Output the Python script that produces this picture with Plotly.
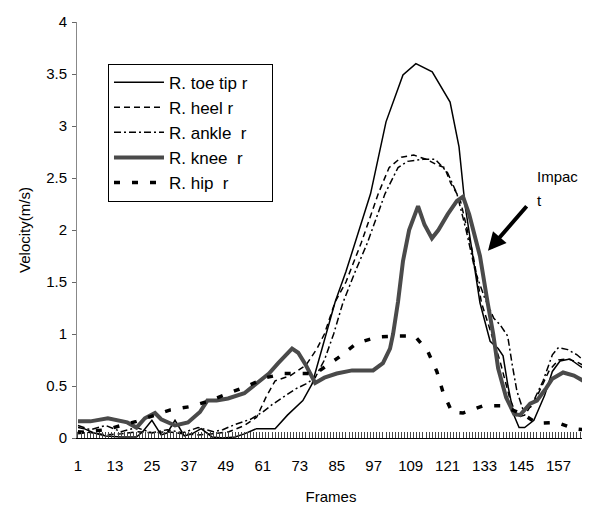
import plotly.graph_objects as go

# ---------------- data ----------------
toe_frames = [1, 3, 6, 10, 15, 20, 22, 25, 28, 30, 32.5, 35.5, 38, 41, 44.5, 48, 52, 55, 59, 65, 69,
              74, 77, 80, 84.5, 88, 91, 96, 101, 106.5, 110.7, 116, 121.8, 124.7, 126.6, 129, 131.5,
              134.8, 137.4, 139, 140.6, 142.5, 144.2, 146, 149, 152.5, 155, 157.5, 160.7, 164, 165.6]
toe_vals = [0.10, 0.09, 0.05, 0.02, 0.01, 0.01, 0.06, 0.17, 0.03, 0.05, 0.17, 0.02, 0.04, 0.09, 0.01,
            0.00, 0.01, 0.04, 0.09, 0.09, 0.22, 0.36, 0.52, 0.84, 1.31, 1.60, 1.88, 2.35, 3.04, 3.49,
            3.60, 3.52, 3.23, 2.80, 2.25, 1.78, 1.30, 0.93, 0.86, 0.79, 0.50, 0.22, 0.10, 0.10, 0.17,
            0.41, 0.64, 0.74, 0.76, 0.69, 0.66]

heel_frames = [1, 5, 10, 15, 20, 25, 30, 35, 40, 45, 50, 55, 59, 62, 65, 70, 75, 78.6, 81, 84.5, 88,
               93, 98.5, 102, 106, 110, 114, 118, 120, 122, 125, 129, 132, 135, 138, 141, 143.5, 146,
               150, 154, 157, 160, 163, 165]
heel_vals = [0.07, 0.05, 0.03, 0.04, 0.06, 0.05, 0.06, 0.04, 0.03, 0.04, 0.06, 0.12, 0.20, 0.39, 0.55,
             0.60, 0.70, 0.86, 1.00, 1.31, 1.50, 1.88, 2.35, 2.60, 2.70, 2.72, 2.68, 2.62, 2.60, 2.45,
             2.30, 1.80, 1.30, 1.02, 0.74, 0.40, 0.20, 0.22, 0.40, 0.65, 0.75, 0.76, 0.73, 0.70]

ankle_frames = [1, 5, 10, 15, 20, 25, 30, 35, 40, 45, 48, 52, 57, 61, 64, 67, 71.5, 75, 78, 81, 84, 87,
                91, 95, 100.7, 104.9, 108, 113, 117, 121, 124, 127, 130, 133, 136, 138, 140.5, 142,
                143.5, 145.5, 148, 152, 155, 157, 160, 163, 165]
ankle_vals = [0.12, 0.08, 0.12, 0.06, 0.10, 0.05, 0.08, 0.05, 0.10, 0.06, 0.08, 0.13, 0.18, 0.25, 0.32,
              0.38, 0.47, 0.52, 0.58, 0.75, 1.00, 1.30, 1.60, 1.88, 2.35, 2.60, 2.66, 2.68, 2.68, 2.55,
              2.35, 2.00, 1.60, 1.35, 1.15, 1.09, 0.98, 0.70, 0.45, 0.27, 0.30, 0.55, 0.80, 0.87, 0.85,
              0.80, 0.75]

knee_frames = [1, 5, 10.7, 14, 17, 20, 22.7, 26, 28, 32.5, 36.7, 40.6, 43, 46, 49.7, 55, 59.4, 63, 66,
               70.5, 72.5, 75, 78, 81, 85, 90, 96.8, 100, 102.3, 103.3, 104.9, 106.5, 108.5, 111.4,
               113.5, 115.9, 118, 121, 124, 126, 128, 131.5, 134, 135.8, 137.4, 140, 142.6, 144.5,
               147.8, 150, 153, 155, 158.5, 162, 165]
knee_vals = [0.16, 0.16, 0.19, 0.17, 0.15, 0.10, 0.19, 0.24, 0.18, 0.12, 0.15, 0.25, 0.36, 0.36, 0.38,
             0.43, 0.53, 0.62, 0.72, 0.86, 0.82, 0.70, 0.53, 0.58, 0.62, 0.65, 0.65, 0.72, 0.86, 1.00,
             1.31, 1.70, 2.00, 2.23, 2.05, 1.92, 2.00, 2.15, 2.28, 2.32, 2.15, 1.75, 1.30, 1.00, 0.67,
             0.39, 0.23, 0.22, 0.33, 0.36, 0.48, 0.57, 0.63, 0.60, 0.55]

hip_frames = [1, 5, 10, 15, 20, 26, 31, 37, 43, 49, 56, 62, 68, 73, 78, 81, 85.4, 91.5, 98, 104, 110.4,
              114.6, 117.5, 119.5, 122.4, 126, 129, 132.5, 138.7, 141.5, 144.5, 147, 150, 156.5, 162, 165]
hip_vals = [0.05, 0.06, 0.08, 0.12, 0.16, 0.22, 0.27, 0.30, 0.35, 0.42, 0.50, 0.58, 0.62, 0.62, 0.62,
            0.68, 0.77, 0.91, 0.97, 0.98, 0.98, 0.83, 0.64, 0.44, 0.25, 0.24, 0.27, 0.31, 0.31, 0.28,
            0.24, 0.20, 0.14, 0.15, 0.09, 0.08]

x_tick_vals = [1, 13, 25, 37, 49, 61, 73, 85, 97, 109, 121, 133, 145, 157]
y_tick_vals = [0, 0.5, 1, 1.5, 2, 2.5, 3, 3.5, 4]
y_tick_text = ["0", "0.5", "1", "1.5", "2", "2.5", "3", "3.5", "4"]

NB = "\u00a0"
series = [
    ("R. toe tip r" + NB * 4, toe_frames, toe_vals, dict(color="black", width=1.5, dash="solid")),
    ("R. heel r", heel_frames, heel_vals, dict(color="black", width=1.5, dash="6px,4px")),
    ("R. ankle" + NB * 2 + "r", ankle_frames, ankle_vals, dict(color="black", width=1.5, dash="7px,3px,2px,3px")),
    ("R. knee" + NB * 2 + "r", knee_frames, knee_vals, dict(color="#4a4a4a", width=4, dash="solid")),
    ("R. hip" + NB * 2 + "r", hip_frames, hip_vals, dict(color="black", width=3.5, dash="6px,12px")),
]

FONT = "Arial, Liberation Sans, sans-serif"

fig = go.Figure()
for i, (name, fx, fy, ln) in enumerate(series):
    fig.add_trace(go.Scatter(x=fx, y=fy, mode="lines", name=name, line=ln, legendgroup="g%d" % i))

# the page body adds an 8px margin, so the figure is sized 8px smaller on each side
fig.update_layout(
    width=582, height=501,
    margin=dict(l=69, r=5, t=8, b=71),
    paper_bgcolor="white", plot_bgcolor="white",
    font=dict(family=FONT, size=14, color="black"),
    showlegend=True,
    legend=dict(x=0.061, y=0.900, xanchor="left", yanchor="top",
                bordercolor="black", borderwidth=1, bgcolor="white",
                tracegroupgap=0, itemwidth=50,
                font=dict(family=FONT, size=17, color="black")),
)

fig.update_xaxes(
    range=[0.68, 165.6], tickmode="array", tickvals=x_tick_vals,
    ticks="", ticklabelstandoff=14,
    showline=True, linecolor="black", linewidth=1,
    showgrid=False, zeroline=False,
    minor=dict(ticks="inside", ticklen=6, dtick=1, tick0=1, tickcolor="#444444", tickwidth=1, showgrid=False),
    tickfont=dict(family=FONT, size=15),
    title=dict(text="Frames", font=dict(family=FONT, size=15), standoff=18),
)
fig.update_yaxes(
    range=[0, 4], tickmode="array", tickvals=y_tick_vals, ticktext=y_tick_text,
    ticks="outside", ticklen=4, tickcolor="#666666", ticklabelstandoff=2,
    ticklabeloverflow="allow",
    showline=True, linecolor="#888888", linewidth=1,
    showgrid=False, zeroline=False,
    tickfont=dict(family=FONT, size=15),
    title=dict(text="Velocity(m/s)", font=dict(family=FONT, size=15), standoff=11),
)

# "Impact" label and arrow
fig.add_annotation(x=149.4, y=2.51, xref="x", yref="y", text="Impac", showarrow=False,
                   xanchor="left", yanchor="middle", font=dict(family=FONT, size=15))
fig.add_annotation(x=149.4, y=2.28, xref="x", yref="y", text="t", showarrow=False,
                   xanchor="left", yanchor="middle", font=dict(family=FONT, size=15))
fig.add_annotation(x=134.1, y=1.8, xref="x", yref="y", text="", showarrow=True,
                   ax=40, ay=-46, arrowhead=2, arrowsize=0.9, arrowwidth=4, arrowcolor="black")

fig.write_html("out.html")
